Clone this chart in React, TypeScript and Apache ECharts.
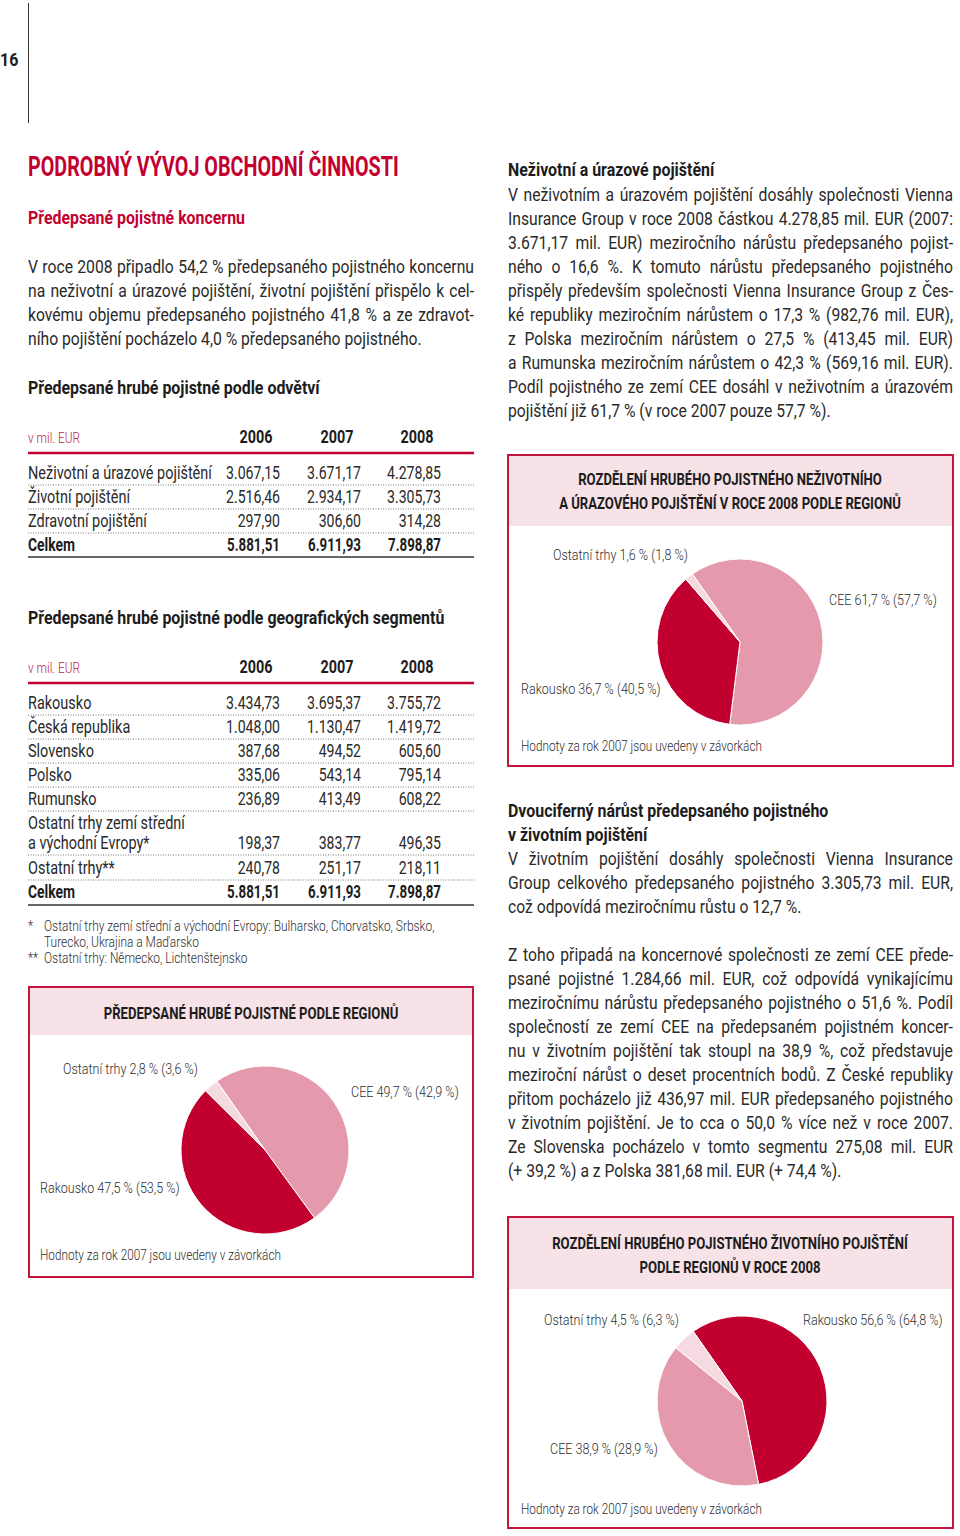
import React, { useEffect, useRef } from "react";
import * as echarts from "echarts";

const FONT = "Roboto";
const RED = "#C3002F";
const DARK = "#1c1c1c";
const BODY = "#2a2a2a";

// ---------- data ----------
const years = ["2006", "2007", "2008"];

const branchNames = ["Neživotní a úrazové pojištění", "Životní pojištění", "Zdravotní pojištění"];
const branch2006 = [3067.15, 2516.46, 297.9];
const branch2007 = [3671.17, 2934.17, 306.6];
const branch2008 = [4278.85, 3305.73, 314.28];
const branchTotal = [5881.51, 6911.93, 7898.87];

const geoNames = [
  "Rakousko",
  "Česká republika",
  "Slovensko",
  "Polsko",
  "Rumunsko",
  "Ostatní trhy zemí střední\na východní Evropy*",
  "Ostatní trhy**",
];
const geo2006 = [3434.73, 1048.0, 387.68, 335.06, 236.89, 198.37, 240.78];
const geo2007 = [3695.37, 1130.47, 494.52, 543.14, 413.49, 383.77, 251.17];
const geo2008 = [3755.72, 1419.72, 605.6, 795.14, 608.22, 496.35, 218.11];
const geoTotal = [5881.51, 6911.93, 7898.87];

const regionAllNames = ["CEE", "Rakousko", "Ostatní trhy"];
const regionAll2008 = [49.7, 47.5, 2.8];
const regionAll2007 = [42.9, 53.5, 3.6];

const nonLifeNames = ["CEE", "Rakousko", "Ostatní trhy"];
const nonLife2008 = [61.7, 36.7, 1.6];
const nonLife2007 = [57.7, 40.5, 1.8];

const lifeNames = ["Rakousko", "CEE", "Ostatní trhy"];
const life2008 = [56.6, 38.9, 4.5];
const life2007 = [64.8, 28.9, 6.3];

// ---------- texts ----------
const introLines = [
  "V roce 2008 připadlo 54,2 % předepsaného pojistného koncernu",
  "na neživotní a úrazové pojištění, životní pojištění přispělo k cel-",
  "kovému objemu předepsaného pojistného 41,8 % a ze zdravot-",
  "ního pojištění pocházelo 4,0 % předepsaného pojistného.",
];
const nonLifeLines = [
  "V neživotním a úrazovém pojištění dosáhly společnosti Vienna",
  "Insurance Group v roce 2008 částkou 4.278,85 mil. EUR (2007:",
  "3.671,17 mil. EUR) meziročního nárůstu předepsaného pojist-",
  "ného o 16,6 %. K tomuto nárůstu předepsaného pojistného",
  "přispěly především společnosti Vienna Insurance Group z Čes-",
  "ké republiky meziročním nárůstem o 17,3 % (982,76 mil. EUR),",
  "z Polska meziročním nárůstem o 27,5 % (413,45 mil. EUR)",
  "a Rumunska meziročním nárůstem o 42,3 % (569,16 mil. EUR).",
  "Podíl pojistného ze zemí CEE dosáhl v neživotním a úrazovém",
  "pojištění již 61,7 % (v roce 2007 pouze 57,7 %).",
];
const lifeHeadLines = ["Dvouciferný nárůst předepsaného pojistného", "v životním pojištění"];
const lifeLines1 = [
  "V životním pojištění dosáhly společnosti Vienna Insurance",
  "Group celkového předepsaného pojistného 3.305,73 mil. EUR,",
  "což odpovídá meziročnímu růstu o 12,7 %.",
];
const lifeLines2 = [
  "Z toho připadá na koncernové společnosti ze zemí CEE přede-",
  "psané pojistné 1.284,66 mil. EUR, což odpovídá vynikajícímu",
  "meziročnímu nárůstu předepsaného pojistného o 51,6 %. Podíl",
  "společností ze zemí CEE na předepsaném pojistném koncer-",
  "nu v životním pojištění tak stoupl na 38,9 %, což představuje",
  "meziroční nárůst o deset procentních bodů. Z České republiky",
  "přitom pocházelo již 436,97 mil. EUR předepsaného pojistného",
  "v životním pojištění. Je to cca o 50,0 % více než v roce 2007.",
  "Ze Slovenska pocházelo v tomto segmentu 275,08 mil. EUR",
  "(+ 39,2 %) a z Polska 381,68 mil. EUR (+ 74,4 %).",
];
const NOTE = "Hodnoty za rok 2007 jsou uvedeny v závorkách";

const COLORS: Record<string, string> = {
  Rakousko: "#C1002F",
  CEE: "#E49AAC",
  "Ostatní trhy": "#F5DAE1",
};

function fmtNum(v: number) {
  const [i, d] = v.toFixed(2).split(".");
  return i.replace(/\B(?=(\d{3})+(?!\d))/g, ".") + "," + d;
}
function fmtPct(v: number) {
  return v.toFixed(1).replace(".", ",");
}

export default function App() {
  const ref = useRef<HTMLDivElement>(null);
  useEffect(() => {
    const chart = echarts.init(ref.current!, null, { renderer: "svg" });
    const ctx = document.createElement("canvas").getContext("2d")!;
    const measure = (s: string, size: number, weight: string) => {
      ctx.font = `${weight} ${size}px ${FONT}`;
      return ctx.measureText(s).width;
    };
    const mk = (size: number, weight: string, color: string, refText: string, refWidth: number) => ({
      size,
      weight,
      color,
      scale: refWidth / measure(refText, size, weight),
    });
    const ST: any = {
      title: mk(28, "bold", RED, "PODROBNÝ VÝVOJ OBCHODNÍ ČINNOSTI", 371),
      sub: mk(18, "bold", RED, "Předepsané pojistné koncernu", 217),
      head: mk(18, "bold", DARK, "Předepsané hrubé pojistné podle odvětví", 292),
      body: mk(18, "normal", BODY, "ního pojištění pocházelo 4,0 % předepsaného pojistného.", 394),
      cell: mk(18, "normal", BODY, "Neživotní a úrazové pojištění", 184),
      num: mk(18, "normal", BODY, "3.067,15", 54),
      cellBold: mk(18, "bold", DARK, "Celkem", 47),
      numBold: mk(18, "bold", DARK, "5.881,51", 53),
      year: mk(18, "bold", DARK, "2006", 33),
      small: mk(15, "300", "#2e2e2e", NOTE, 241),
      label: mk(15, "300", "#2e2e2e", "Ostatní trhy 1,6 % (1,8 %)", 135),
      box: mk(17, "bold", DARK, "PŘEDEPSANÉ HRUBÉ POJISTNÉ PODLE REGIONŮ", 295),
      foot: mk(14, "300", "#2e2e2e", "Ostatní trhy zemí střední a východní Evropy: Bulharsko, Chorvatsko, Srbsko,", 391),
    };
    ST.unit = { ...mk(14, "300", "#B8234A", "v mil. EUR", 52) };
    ST.page = { ...ST.head };

    const els: any[] = [];
    const T = (x: number, y: number, s: string, st: any, align = "left") => {
      els.push({
        type: "text",
        x,
        y,
        scaleX: st.scale,
        silent: true,
        z: 10,
        style: {
          text: s,
          fill: st.color,
          fontSize: st.size,
          fontWeight: st.weight,
          fontFamily: FONT,
          textAlign: align,
          textVerticalAlign: "middle",
        },
      });
    };
    const L = (x1: number, y1: number, x2: number, y2: number, stroke: string, w: number, dash?: number[]) => {
      els.push({
        type: "line",
        silent: true,
        shape: { x1, y1, x2, y2 },
        style: { stroke, lineWidth: w, lineDash: dash },
      });
    };
    const R = (x: number, y: number, w: number, h: number, fill: string, stroke?: string, lw = 0) => {
      els.push({
        type: "rect",
        silent: true,
        shape: { x, y, width: w, height: h },
        style: { fill, stroke, lineWidth: lw },
      });
    };
    const para = (x: number, y0: number, width: number, lines: string[], st: any) => {
      lines.forEach((line, i) => {
        const y = y0 + i * 24;
        if (i === lines.length - 1) {
          T(x, y, line, st);
          return;
        }
        const words = line.split(" ");
        const ws = words.map((w) => measure(w, st.size, st.weight) * st.scale);
        const gap = (width - ws.reduce((a, b) => a + b, 0)) / (words.length - 1);
        let cx = x;
        words.forEach((w, j) => {
          T(cx, y, w, st);
          cx += ws[j] + gap;
        });
      });
    };

    // page number + rule
    T(0, 60, "16", ST.page);
    L(28.5, 3, 28.5, 123, "#333", 1);

    // left column
    T(28, 167, "PODROBNÝ VÝVOJ OBCHODNÍ ČINNOSTI", ST.title);
    T(28, 218, "Předepsané pojistné koncernu", ST.sub);
    para(28, 267, 446, introLines, ST.body);
    T(28, 388, "Předepsané hrubé pojistné podle odvětví", ST.head);

    const colR = [280, 361, 441];
    const tableHeader = (y: number) => {
      T(28, y + 1, "v mil. EUR", ST.unit);
      years.forEach((yr, i) => T(colR[i] - 24, y, yr, ST.year, "center"));
      L(28, y + 16, 474, y + 16, RED, 2.5);
    };

    // table 1
    tableHeader(437);
    const t1Rows = [473, 497, 521];
    branchNames.forEach((n, i) => {
      const y = t1Rows[i];
      T(28, y, n, ST.cell);
      [branch2006, branch2007, branch2008].forEach((arr, c) => T(colR[c], y, fmtNum(arr[i]), ST.num, "right"));
      L(28, y + 12, 474, y + 12, "#777", 1, [1, 1.5]);
    });
    T(28, 545, "Celkem", ST.cellBold);
    branchTotal.forEach((v, c) => T(colR[c], 545, fmtNum(v), ST.numBold, "right"));
    L(28, 557, 474, 557, "#333", 1.5);

    // table 2
    T(28, 618, "Předepsané hrubé pojistné podle geografických segmentů", ST.head);
    tableHeader(667);
    const t2Rows = [703, 727, 751, 775, 799, 843, 868];
    geoNames.forEach((n, i) => {
      const y = t2Rows[i];
      const parts = n.split("\n");
      if (parts.length > 1) {
        T(28, y - 20, parts[0], ST.cell);
        T(28, y, parts[1], ST.cell);
      } else T(28, y, n, ST.cell);
      [geo2006, geo2007, geo2008].forEach((arr, c) => T(colR[c], y, fmtNum(arr[i]), ST.num, "right"));
      L(28, y + 12, 474, y + 12, "#777", 1, [1, 1.5]);
    });
    T(28, 892, "Celkem", ST.cellBold);
    geoTotal.forEach((v, c) => T(colR[c], 892, fmtNum(v), ST.numBold, "right"));
    L(28, 905, 474, 905, "#333", 1.5);

    T(28, 926, "*", ST.foot);
    T(44, 926, "Ostatní trhy zemí střední a východní Evropy: Bulharsko, Chorvatsko, Srbsko,", ST.foot);
    T(44, 942, "Turecko, Ukrajina a Maďarsko", ST.foot);
    T(28, 958, "**", ST.foot);
    T(44, 958, "Ostatní trhy: Německo, Lichtenštejnsko", ST.foot);

    // right column
    T(508, 170, "Neživotní a úrazové pojištění", ST.head);
    para(508, 195, 445, nonLifeLines, ST.body);
    lifeHeadLines.forEach((l, i) => T(508, 811 + i * 24, l, ST.head));
    para(508, 859, 445, lifeLines1, ST.body);
    para(508, 955, 445, lifeLines2, ST.body);

    // boxes
    const BORDER = "#C4153F";
    const BAND = "#F7E2E7";
    const box = (x: number, y: number, w: number, h: number, bandH: number) => {
      R(x, y, w, h, "#fff", BORDER, 2);
      R(x + 1, y + 1, w - 2, bandH, BAND);
    };
    box(29, 987, 444, 290, 47);
    box(508, 455, 445, 311, 70);
    box(508, 1217, 445, 311, 71);

    T(251, 1013, "PŘEDEPSANÉ HRUBÉ POJISTNÉ PODLE REGIONŮ", ST.box, "center");
    T(730, 479, "ROZDĚLENÍ HRUBÉHO POJISTNÉHO NEŽIVOTNÍHO", ST.box, "center");
    T(730, 503, "A ÚRAZOVÉHO POJIŠTĚNÍ V ROCE 2008 PODLE REGIONŮ", ST.box, "center");
    T(730, 1243, "ROZDĚLENÍ HRUBÉHO POJISTNÉHO ŽIVOTNÍHO POJIŠTĚNÍ", ST.box, "center");
    T(730, 1267, "PODLE REGIONŮ V ROCE 2008", ST.box, "center");

    const pieLabels = (names: string[], v8: number[], v7: number[], pos: number[][]) => {
      names.forEach((n, i) => T(pos[i][0], pos[i][1], `${n} ${fmtPct(v8[i])} % (${fmtPct(v7[i])} %)`, ST.label));
    };
    pieLabels(regionAllNames, regionAll2008, regionAll2007, [
      [351, 1092],
      [40, 1188],
      [63, 1069],
    ]);
    T(40, 1255, NOTE, ST.small);
    pieLabels(nonLifeNames, nonLife2008, nonLife2007, [
      [829, 600],
      [521, 689],
      [553, 555],
    ]);
    T(521, 746, NOTE, ST.small);
    pieLabels(lifeNames, life2008, life2007, [
      [803, 1320],
      [550, 1449],
      [544, 1320],
    ]);
    T(521, 1509, NOTE, ST.small);

    const pie = (names: string[], vals: number[], center: number[], r: number) => ({
      type: "pie",
      center,
      radius: r,
      startAngle: 125,
      clockwise: true,
      silent: true,
      z: 5,
      label: { show: false },
      labelLine: { show: false },
      emphasis: { disabled: true },
      itemStyle: { borderColor: "#fff", borderWidth: 1 },
      data: names.map((n, i) => ({ name: n, value: vals[i], itemStyle: { color: COLORS[n] } })),
    });

    chart.setOption({
      animation: false,
      graphic: { elements: els },
      series: [
        pie(regionAllNames, regionAll2008, [265, 1150], 84),
        pie(nonLifeNames, nonLife2008, [740, 642], 83),
        pie(lifeNames, life2008, [742, 1401], 85),
      ],
    });
    return () => chart.dispose();
  }, []);
  return (
    <div
      ref={ref}
      style={{ position: "absolute", left: 0, top: 0, width: 960, height: 1536, background: "#fff" }}
    />
  );
}
